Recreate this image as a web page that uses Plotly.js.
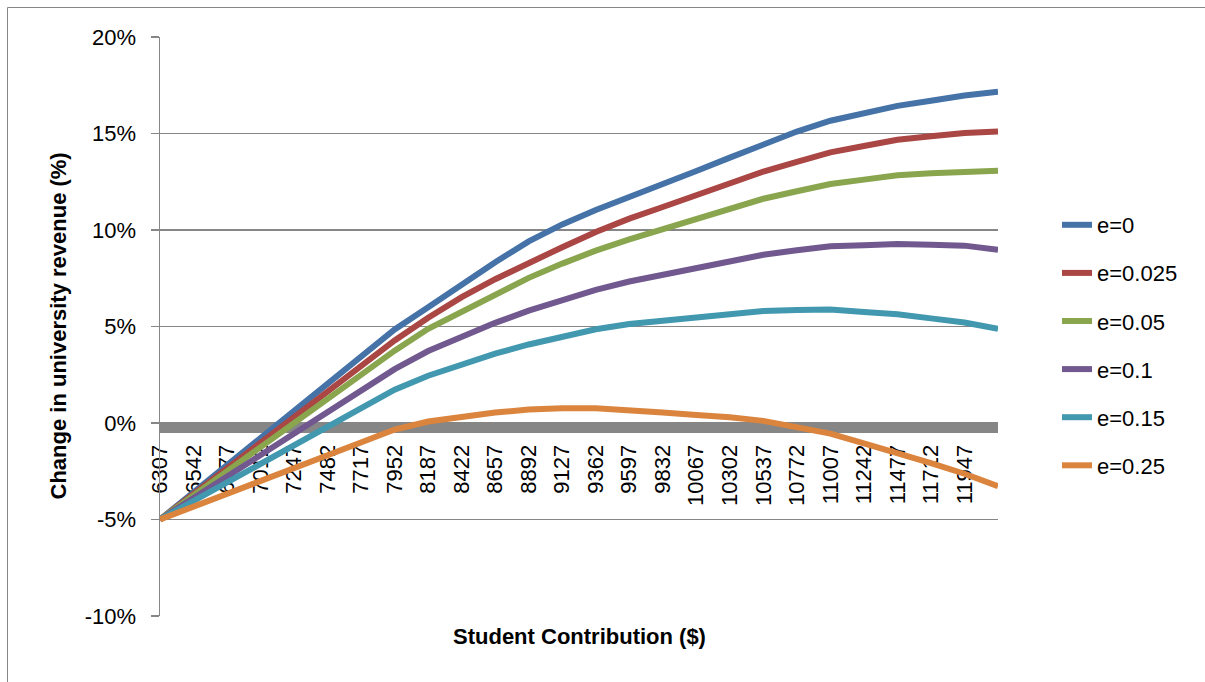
<!DOCTYPE html>
<html>
<head>
<meta charset="utf-8">
<script src="https://cdn.plot.ly/plotly-3.0.1.min.js"></script>
<style>
  html, body { margin: 0; padding: 0; background: #ffffff; }
  #chart { width: 1205px; height: 682px; }
</style>
</head>
<body>
<div id="chart"></div>
<script>
// Student contribution levels ($) on the category axis
const contribution = [6307, 6542, 6777, 7012, 7247, 7482, 7717, 7952, 8187, 8422, 8657, 8892, 9127,
  9362, 9597, 9832, 10067, 10302, 10537, 10772, 11007, 11242, 11477, 11712, 11947, 12182];

// Labels printed along the horizontal axis
const xTickLabels = ["6307", "6542", "6777", "7012", "7247", "7482", "7717", "7952", "8187", "8422",
  "8657", "8892", "9127", "9362", "9597", "9832", "10067", "10302", "10537", "10772", "11007",
  "11242", "11477", "11712", "11947"];

// Vertical axis ticks (percent)
const yTickValues = [-10, -5, 0, 5, 10, 15, 20];
const yTickLabels = ["-10%", "-5%", "0%", "5%", "10%", "15%", "20%"];

// Change in university revenue (%) for each elasticity e
const seriesNames = ["e=0", "e=0.025", "e=0.05", "e=0.1", "e=0.15", "e=0.25"];
const revenueE0 = [-5.00, -3.59, -2.19, -0.78, 0.63, 2.03, 3.44, 4.85, 6.00, 7.19, 8.33, 9.41, 10.29,
  11.04, 11.74, 12.40, 13.06, 13.75, 14.45, 15.10, 15.66, 16.05, 16.43, 16.70, 16.97, 17.16];
const revenueE0025 = [-5.00, -3.67, -2.35, -1.02, 0.30, 1.63, 2.96, 4.28, 5.45, 6.52, 7.45, 8.30, 9.11,
  9.90, 10.59, 11.19, 11.78, 12.42, 13.03, 13.53, 14.02, 14.35, 14.68, 14.86, 15.02, 15.10];
const revenueE005 = [-5.00, -3.75, -2.50, -1.25, 0.00, 1.25, 2.50, 3.75, 4.88, 5.75, 6.65, 7.52, 8.26,
  8.93, 9.51, 10.02, 10.52, 11.08, 11.62, 12.01, 12.38, 12.61, 12.84, 12.94, 13.02, 13.07];
const revenueE01 = [-5.00, -3.89, -2.77, -1.66, -0.55, 0.57, 1.68, 2.79, 3.73, 4.49, 5.19, 5.82, 6.38,
  6.90, 7.33, 7.66, 7.99, 8.34, 8.72, 8.95, 9.16, 9.21, 9.27, 9.24, 9.19, 8.97];
const revenueE015 = [-5.00, -4.04, -3.08, -2.11, -1.15, -0.19, 0.77, 1.73, 2.45, 3.05, 3.59, 4.07, 4.48,
  4.86, 5.13, 5.31, 5.48, 5.62, 5.80, 5.86, 5.88, 5.75, 5.63, 5.42, 5.21, 4.88];
const revenueE025 = [-5.00, -4.33, -3.67, -3.00, -2.34, -1.67, -1.01, -0.34, 0.08, 0.34, 0.54, 0.70, 0.77,
  0.76, 0.68, 0.54, 0.41, 0.30, 0.11, -0.23, -0.55, -1.05, -1.54, -2.08, -2.63, -3.28];

const seriesValues = [revenueE0, revenueE0025, revenueE005, revenueE01, revenueE015, revenueE025];
const seriesColors = ["#4572a7", "#aa4643", "#89a54e", "#71588f", "#4198af", "#db843d"];

// Figure geometry
const W = 1205, H = 682;
const M = { l: 160, r: 207, t: 37, b: 66 };
const plotW = W - M.l - M.r, plotH = H - M.t - M.b;
const px2paperX = px => (px - M.l) / plotW;
const px2paperY = py => (H - M.b - py) / plotH;

const yRange = [-10, 20];
const FONT = "Liberation Sans, Arial, sans-serif";
const GRID = "#868686";

// The thick horizontal axis hangs just under the 0% line
const axisBandWidth = 10;
const axisBandCenter = -(axisBandWidth / 2) / (plotH / (yRange[1] - yRange[0]));

const traces = seriesNames.map((name, k) => ({
  type: "scatter",
  mode: "lines",
  name: name,
  legendgroup: "g" + k,
  x: contribution,
  y: seriesValues[k],
  line: { color: seriesColors[k], width: 6 },
  hovertemplate: name + "<br>%{x}: %{y:.2f}%<extra></extra>"
}));

const layout = {
  width: W,
  height: H,
  margin: M,
  paper_bgcolor: "#ffffff",
  plot_bgcolor: "#ffffff",
  font: { family: FONT, size: 22, color: "#000000" },
  showlegend: true,
  xaxis: {
    range: [contribution[0], contribution[contribution.length - 1]],
    anchor: "free",
    position: (axisBandCenter - yRange[0]) / (yRange[1] - yRange[0]),
    showline: true,
    linecolor: GRID,
    linewidth: axisBandWidth,
    layer: "below traces",
    ticks: "",
    tickmode: "array",
    tickvals: xTickLabels.map(Number),
    ticktext: xTickLabels,
    tickangle: -90,
    tickfont: { family: FONT, size: 22, color: "#000000" },
    ticklabelstandoff: 3,
    showgrid: false,
    zeroline: false,
    fixedrange: true
  },
  yaxis: {
    range: yRange,
    tickmode: "array",
    tickvals: yTickValues,
    ticktext: yTickLabels,
    showgrid: true,
    gridcolor: GRID,
    gridwidth: 1.5,
    showline: true,
    linecolor: GRID,
    linewidth: 1.5,
    ticks: "outside",
    ticklen: 8,
    tickwidth: 1.5,
    tickcolor: GRID,
    zeroline: false,
    tickfont: { family: FONT, size: 22, color: "#000000" },
    ticklabelstandoff: 10,
    fixedrange: true
  },
  legend: {
    x: px2paperX(1057),
    y: px2paperY(204),
    xanchor: "left",
    yanchor: "top",
    font: { family: FONT, size: 22, color: "#000000" },
    tracegroupgap: 16.5,
    bgcolor: "rgba(0,0,0,0)",
    borderwidth: 0
  },
  annotations: [
    {
      text: "<b>Student Contribution ($)</b>",
      xref: "paper", yref: "paper",
      x: 0.5, y: px2paperY(636),
      xanchor: "center", yanchor: "middle",
      showarrow: false,
      font: { family: FONT, size: 22, color: "#000000" }
    },
    {
      text: "<b>Change in university revenue (%)</b>",
      xref: "paper", yref: "paper",
      x: px2paperX(58), y: 0.5,
      xanchor: "center", yanchor: "middle",
      textangle: -90,
      showarrow: false,
      font: { family: FONT, size: 22, color: "#000000" }
    }
  ],
  shapes: [
    {
      type: "rect", xref: "paper", yref: "paper",
      x0: px2paperX(7.5), x1: px2paperX(W + 20),
      y0: px2paperY(H + 20), y1: px2paperY(7.5),
      line: { color: GRID, width: 1 },
      fillcolor: "rgba(0,0,0,0)",
      layer: "below"
    }
  ]
};

Plotly.newPlot("chart", traces, layout, { displayModeBar: false, staticPlot: true });
</script>
</body>
</html>
